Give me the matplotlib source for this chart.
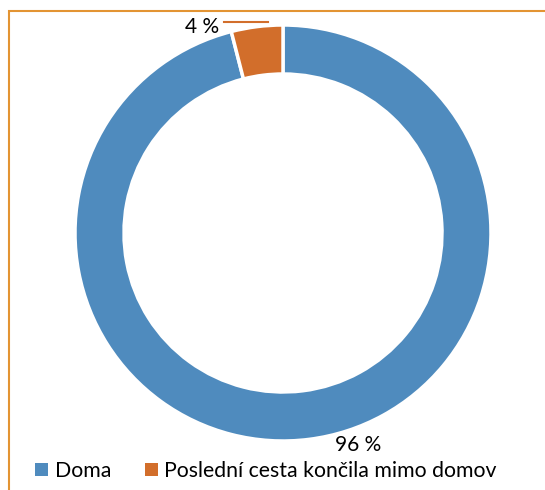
import numpy as np
import matplotlib
matplotlib.use("Agg")
import matplotlib.pyplot as plt
import matplotlib.patches as pt

# data
kategorie = ["Doma", "Poslední cesta končila mimo domov"]
hodnoty = [96, 4]
popisky = ["96 %", "4 %"]
barvy = ["#4F8BBE", "#D26E2B"]

W, H = 545, 490
plt.rcParams['font.family'] = ['Lato', 'DejaVu Sans']

fig = plt.figure(figsize=(W/100, H/100), dpi=100)
ax = fig.add_axes([0, 0, 1, 1])

cx, cy, R = 283, H-233, 208
wedges, _ = ax.pie(hodnoty, colors=barvy, startangle=90, counterclock=False,
                   center=(cx, cy), radius=R, frame=True,
                   wedgeprops=dict(width=49, edgecolor="white", linewidth=2.5))
ax.set_xlim(0, W)
ax.set_ylim(0, H)
ax.set_aspect("equal")
ax.axis("off")

# popisky dat
w0 = wedges[0]
ang = np.deg2rad((w0.theta1 + w0.theta2)/2)
ax.text(cx + 214*np.cos(ang) + 48, cy + 214*np.sin(ang), popisky[0],
        fontsize=15, ha="center", va="center")
ax.text(219, H-27, popisky[1], fontsize=15, ha="right", va="center")
ax.plot([224, 268], [H-22, H-22], color=barvy[1], lw=1.5)

# ramecek
fig.patches.append(pt.Rectangle((9/W, -0.1), 1.2, 1.1 - 11/H,
                                transform=fig.transFigure, fill=False,
                                edgecolor="#E39433", lw=1.5))

leg = fig.legend(wedges, kategorie, loc="center", bbox_to_anchor=(266/W, 1-471/H),
                 ncol=2, frameon=False, fontsize=15.3, handlelength=0.6,
                 handleheight=0.6, handletextpad=0.3, columnspacing=1.6)
for h in leg.legend_handles:
    h.set_edgecolor("none")

fig.savefig("out.png", dpi=100)
